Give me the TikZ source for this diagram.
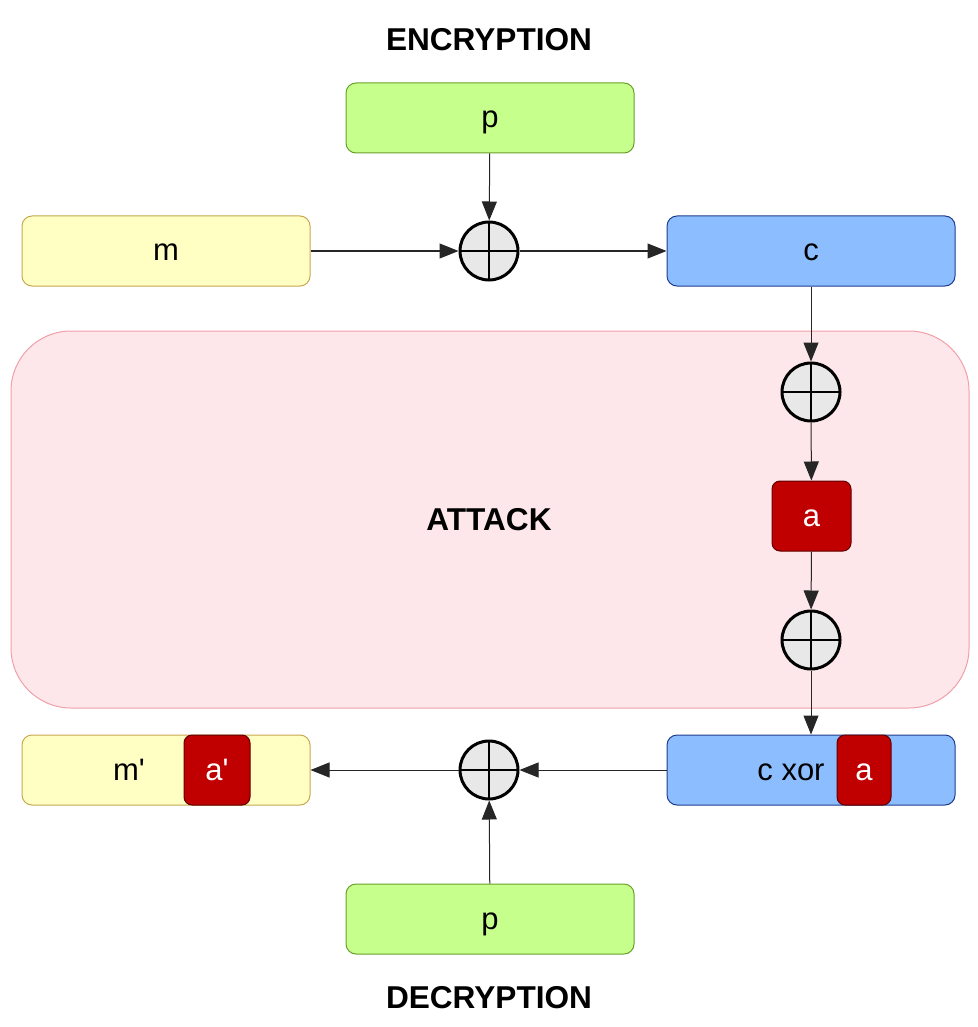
\documentclass[tikz,border=0pt]{standalone}
\usepackage{fontspec}
\setmainfont{Liberation Sans}[Ligatures=TeXOff]
\usetikzlibrary{arrows.meta}
\definecolor{gfill}{HTML}{C6FF8C}
\definecolor{gline}{HTML}{6A9F2A}
\definecolor{yfill}{HTML}{FFFFC4}
\definecolor{yline}{HTML}{C8A850}
\definecolor{bfill}{HTML}{8CBDFF}
\definecolor{bline}{HTML}{1F3C8C}
\definecolor{rfill}{HTML}{C00000}
\definecolor{rline}{HTML}{600000}
\definecolor{pfill}{HTML}{FDE7EA}
\definecolor{pline}{HTML}{F0A0A8}
\definecolor{xfill}{HTML}{E8E8E8}
\tikzset{
  txt/.style={font=\fontsize{15.5}{18}\selectfont, text height=12pt, text depth=2pt},
  ttl/.style={font=\fontsize{15.8}{18}\selectfont\bfseries},
  box/.style={txt, draw, line width=0.5pt, rounded corners=5pt, minimum width=144pt, minimum height=35pt, inner sep=0pt},
  gbox/.style={box, fill=gfill, draw=gline},
  ybox/.style={box, fill=yfill, draw=yline},
  bbox/.style={box, fill=bfill, draw=bline},
  rbox/.style={txt, text=white, fill=rfill, draw=rline, line width=0.5pt, rounded corners=4pt, inner sep=0pt, minimum height=35pt},
  xorn/.style={circle, draw=black, line width=1.5pt, fill=xfill, minimum size=29pt, inner sep=0pt,
    path picture={\draw[line width=1.3pt] (path picture bounding box.north) -- (path picture bounding box.south)
      (path picture bounding box.west) -- (path picture bounding box.east);}},
  arr/.style={draw=black!85, line width=0.5pt, -{Triangle[length=9.5pt,width=7.5pt]}},
}
\begin{document}
\begin{tikzpicture}[x=0.5pt,y=-0.5pt]
\useasboundingbox (0,0) rectangle (978,1027);
\node[draw=pline, fill=pfill, line width=0.5pt, rounded corners=30pt, minimum width=479pt, minimum height=188.5pt, inner sep=0pt] (attack) at (490,519.5) {};
\node[ttl] (attacklbl) at (489,520) {ATTACK};
\node[ttl] (enc) at (489,40) {ENCRYPTION};
\node[ttl] (dec) at (489,998) {DECRYPTION};

\node[gbox] (ptop) at (490,118) {p};
\node[ybox] (m) at (166,251) {m};
\node[bbox] (c) at (811,251) {c};
\node[xorn] (x1) at (489,251) {};
\node[xorn] (x2) at (811,392) {};
\node[rbox, minimum width=39.5pt] (a) at (811.5,516) {a};
\node[xorn] (x3) at (811,640) {};

\node[bbox] (cxor) at (811,770) {};
\node[txt] (cxorlbl) at (791,770) {c xor};
\node[rbox, minimum width=27pt] (a2) at (864,770) {a};

\node[ybox] (mp) at (166,770) {};
\node[txt] (mplbl) at (129,770) {m'};
\node[rbox, minimum width=33pt] (ap) at (217,770) {a'};

\node[xorn] (x4) at (489,770) {};
\node[gbox] (pbot) at (490,919) {p};

\draw[arr] (ptop) -- (x1);
\draw[arr] (m) -- (x1);
\draw[arr] (x1) -- (c);
\draw[arr] (c) -- (x2);
\draw[arr] (x2) -- (a);
\draw[arr] (a) -- (x3);
\draw[arr] (x3) -- (cxor);
\draw[arr] (cxor) -- (x4);
\draw[arr] (x4) -- (mp);
\draw[arr] (pbot) -- (x4);
\end{tikzpicture}
\end{document}
